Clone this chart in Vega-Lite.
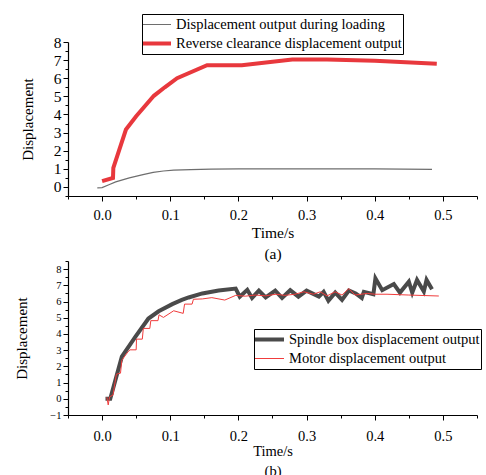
{
  "$schema": "https://vega.github.io/schema/vega-lite/v6.json",
  "padding": {"left": 14, "top": 13, "right": 2, "bottom": 0},
  "spacing": 65,
  "bounds": "flush",
  "resolve": {"scale": {"color": "independent", "strokeWidth": "independent"}, "legend": {"color": "independent", "strokeWidth": "independent"}},
  "config": {
    "font": "Liberation Serif",
    "view": {"stroke": null},
    "axis": {"domainColor": "black", "tickColor": "black", "labelColor": "black", "titleColor": "black", "grid": false, "titleFontWeight": "normal", "labelFontWeight": "normal", "domainWidth": 1.2, "tickWidth": 1, "labelFont": "Liberation Serif", "titleFont": "Liberation Serif"},
    "legend": {"labelFont": "Liberation Serif", "labelColor": "black", "labelLimit": 400}
  },
  "vconcat": [
    {
      "width": 409,
      "height": 154,
      "data": {"values": [
        {"series": "Displacement output during loading", "t": -0.007, "v": -0.05},
        {"series": "Displacement output during loading", "t": 0.0, "v": -0.04},
        {"series": "Displacement output during loading", "t": 0.01, "v": 0.12},
        {"series": "Displacement output during loading", "t": 0.02, "v": 0.28},
        {"series": "Displacement output during loading", "t": 0.04, "v": 0.5},
        {"series": "Displacement output during loading", "t": 0.06, "v": 0.68},
        {"series": "Displacement output during loading", "t": 0.075, "v": 0.8},
        {"series": "Displacement output during loading", "t": 0.09, "v": 0.88},
        {"series": "Displacement output during loading", "t": 0.105, "v": 0.93},
        {"series": "Displacement output during loading", "t": 0.13, "v": 0.96},
        {"series": "Displacement output during loading", "t": 0.16, "v": 0.98},
        {"series": "Displacement output during loading", "t": 0.2, "v": 1.0},
        {"series": "Displacement output during loading", "t": 0.3, "v": 1.0},
        {"series": "Displacement output during loading", "t": 0.4, "v": 1.0},
        {"series": "Displacement output during loading", "t": 0.484, "v": 0.97},
        {"series": "Reverse clearance displacement output", "t": 0.0, "v": 0.32},
        {"series": "Reverse clearance displacement output", "t": 0.016, "v": 0.5},
        {"series": "Reverse clearance displacement output", "t": 0.0165, "v": 1.05},
        {"series": "Reverse clearance displacement output", "t": 0.035, "v": 3.17},
        {"series": "Reverse clearance displacement output", "t": 0.05, "v": 3.9},
        {"series": "Reverse clearance displacement output", "t": 0.076, "v": 5.03},
        {"series": "Reverse clearance displacement output", "t": 0.092, "v": 5.5},
        {"series": "Reverse clearance displacement output", "t": 0.11, "v": 6.0},
        {"series": "Reverse clearance displacement output", "t": 0.154, "v": 6.72},
        {"series": "Reverse clearance displacement output", "t": 0.205, "v": 6.72},
        {"series": "Reverse clearance displacement output", "t": 0.279, "v": 7.04},
        {"series": "Reverse clearance displacement output", "t": 0.33, "v": 7.04},
        {"series": "Reverse clearance displacement output", "t": 0.4, "v": 6.96},
        {"series": "Reverse clearance displacement output", "t": 0.491, "v": 6.8}
      ]},
      "mark": {"type": "line", "strokeCap": "butt", "strokeJoin": "miter"},
      "encoding": {
        "x": {"field": "t", "type": "quantitative",
          "scale": {"domain": [-0.05, 0.55], "nice": false, "zero": false},
          "axis": {"values": [-0.05, 0, 0.05, 0.1, 0.15, 0.2, 0.25, 0.3, 0.35, 0.4, 0.45, 0.5, 0.55],
            "labelExpr": "abs(datum.value*10 - round(datum.value*10)) < 0.01 ? format(datum.value, '.1f') : ''",
            "tickSize": {"condition": {"test": "abs(datum.value*10 - round(datum.value*10)) > 0.01", "value": 3}, "value": 5},
            "labelFont": "Liberation Serif", "labelFontSize": 14.5, "labelPadding": 7,
            "title": ["Time/s", "(a)"], "titleFont": "Liberation Serif", "titleFontWeight": "normal", "titleFontSize": 15.5, "titleLineHeight": 21, "titlePadding": 4}},
        "y": {"field": "v", "type": "quantitative",
          "scale": {"domain": [-0.5, 8], "nice": false, "zero": false},
          "axis": {"values": [-0.5, 0, 0.5, 1, 1.5, 2, 2.5, 3, 3.5, 4, 4.5, 5, 5.5, 6, 6.5, 7, 7.5, 8],
            "labelExpr": "datum.value % 1 == 0 ? format(datum.value, 'd') : ''",
            "tickSize": {"condition": {"test": "datum.value % 1 != 0", "value": 3}, "value": 5},
            "labelFont": "Liberation Serif", "labelFontSize": 15.5, "labelPadding": 2,
            "title": "Displacement", "titleFont": "Liberation Serif", "titleFontWeight": "normal", "titleFontSize": 15, "titlePadding": 18}},
        "color": {"field": "series", "type": "nominal",
          "scale": {"domain": ["Displacement output during loading", "Reverse clearance displacement output"], "range": ["#6e6e6e", "#e8383d"]},
          "legend": {"title": null, "orient": "none", "legendX": 74, "legendY": -28, "fillColor": "white", "strokeColor": "black", "padding": 1, "symbolType": "stroke", "symbolSize": 900, "symbolOffset": -4, "clipHeight": 19, "labelFontSize": 14.5, "labelOffset": 3, "rowPadding": 0}},
        "strokeWidth": {"field": "series", "type": "nominal",
          "scale": {"type": "ordinal", "domain": ["Displacement output during loading", "Reverse clearance displacement output"], "range": [1.2, 4]},
          "legend": {"title": null, "orient": "none", "legendX": 74, "legendY": -28, "fillColor": "white", "strokeColor": "black", "padding": 1, "symbolType": "stroke", "symbolSize": 900, "symbolOffset": -4, "clipHeight": 19, "labelFontSize": 14.5, "labelOffset": 3, "rowPadding": 0}}
      }
    },
    {
      "width": 409,
      "height": 154,
      "data": {"values": [
        {"series": "Spindle box displacement output", "t": 0.005, "v": 0},
        {"series": "Spindle box displacement output", "t": 0.012, "v": 0},
        {"series": "Spindle box displacement output", "t": 0.029, "v": 2.6},
        {"series": "Spindle box displacement output", "t": 0.049, "v": 3.83},
        {"series": "Spindle box displacement output", "t": 0.068, "v": 4.95},
        {"series": "Spindle box displacement output", "t": 0.083, "v": 5.4},
        {"series": "Spindle box displacement output", "t": 0.103, "v": 5.84},
        {"series": "Spindle box displacement output", "t": 0.117, "v": 6.1},
        {"series": "Spindle box displacement output", "t": 0.127, "v": 6.25},
        {"series": "Spindle box displacement output", "t": 0.147, "v": 6.5},
        {"series": "Spindle box displacement output", "t": 0.171, "v": 6.68},
        {"series": "Spindle box displacement output", "t": 0.196, "v": 6.8},
        {"series": "Spindle box displacement output", "t": 0.202, "v": 6.3},
        {"series": "Spindle box displacement output", "t": 0.213, "v": 6.72},
        {"series": "Spindle box displacement output", "t": 0.22, "v": 6.22},
        {"series": "Spindle box displacement output", "t": 0.23, "v": 6.67},
        {"series": "Spindle box displacement output", "t": 0.24, "v": 6.25},
        {"series": "Spindle box displacement output", "t": 0.254, "v": 6.67},
        {"series": "Spindle box displacement output", "t": 0.264, "v": 6.22},
        {"series": "Spindle box displacement output", "t": 0.276, "v": 6.7},
        {"series": "Spindle box displacement output", "t": 0.288, "v": 6.3},
        {"series": "Spindle box displacement output", "t": 0.3, "v": 6.67},
        {"series": "Spindle box displacement output", "t": 0.318, "v": 6.3},
        {"series": "Spindle box displacement output", "t": 0.325, "v": 6.6},
        {"series": "Spindle box displacement output", "t": 0.332, "v": 6.05},
        {"series": "Spindle box displacement output", "t": 0.342, "v": 6.55},
        {"series": "Spindle box displacement output", "t": 0.352, "v": 6.1},
        {"series": "Spindle box displacement output", "t": 0.362, "v": 6.68},
        {"series": "Spindle box displacement output", "t": 0.372, "v": 6.5},
        {"series": "Spindle box displacement output", "t": 0.381, "v": 6.22},
        {"series": "Spindle box displacement output", "t": 0.384, "v": 6.6},
        {"series": "Spindle box displacement output", "t": 0.398, "v": 6.45},
        {"series": "Spindle box displacement output", "t": 0.401, "v": 7.43},
        {"series": "Spindle box displacement output", "t": 0.411, "v": 6.7},
        {"series": "Spindle box displacement output", "t": 0.428, "v": 7.08},
        {"series": "Spindle box displacement output", "t": 0.437, "v": 6.55},
        {"series": "Spindle box displacement output", "t": 0.45, "v": 7.22},
        {"series": "Spindle box displacement output", "t": 0.455, "v": 6.55},
        {"series": "Spindle box displacement output", "t": 0.462, "v": 7.33},
        {"series": "Spindle box displacement output", "t": 0.472, "v": 6.62},
        {"series": "Spindle box displacement output", "t": 0.476, "v": 7.33},
        {"series": "Spindle box displacement output", "t": 0.484, "v": 6.75},
        {"series": "Motor displacement output", "t": 0.007, "v": 0.1},
        {"series": "Motor displacement output", "t": 0.009, "v": -0.38},
        {"series": "Motor displacement output", "t": 0.011, "v": 0.12},
        {"series": "Motor displacement output", "t": 0.016, "v": 0.23},
        {"series": "Motor displacement output", "t": 0.021, "v": 1.52},
        {"series": "Motor displacement output", "t": 0.027, "v": 1.58},
        {"series": "Motor displacement output", "t": 0.029, "v": 2.38},
        {"series": "Motor displacement output", "t": 0.038, "v": 2.9},
        {"series": "Motor displacement output", "t": 0.041, "v": 3.02},
        {"series": "Motor displacement output", "t": 0.05, "v": 3.02},
        {"series": "Motor displacement output", "t": 0.0505, "v": 3.68},
        {"series": "Motor displacement output", "t": 0.059, "v": 3.68},
        {"series": "Motor displacement output", "t": 0.0605, "v": 4.34},
        {"series": "Motor displacement output", "t": 0.07, "v": 4.34},
        {"series": "Motor displacement output", "t": 0.0715, "v": 4.82},
        {"series": "Motor displacement output", "t": 0.082, "v": 4.82},
        {"series": "Motor displacement output", "t": 0.0835, "v": 5.18},
        {"series": "Motor displacement output", "t": 0.09, "v": 5.02},
        {"series": "Motor displacement output", "t": 0.105, "v": 5.43},
        {"series": "Motor displacement output", "t": 0.119, "v": 5.27},
        {"series": "Motor displacement output", "t": 0.121, "v": 5.84},
        {"series": "Motor displacement output", "t": 0.132, "v": 5.84},
        {"series": "Motor displacement output", "t": 0.134, "v": 6.14},
        {"series": "Motor displacement output", "t": 0.147, "v": 6.16},
        {"series": "Motor displacement output", "t": 0.161, "v": 6.24},
        {"series": "Motor displacement output", "t": 0.18, "v": 6.09},
        {"series": "Motor displacement output", "t": 0.196, "v": 6.38},
        {"series": "Motor displacement output", "t": 0.21, "v": 6.33},
        {"series": "Motor displacement output", "t": 0.225, "v": 6.4},
        {"series": "Motor displacement output", "t": 0.24, "v": 6.35},
        {"series": "Motor displacement output", "t": 0.255, "v": 6.45},
        {"series": "Motor displacement output", "t": 0.268, "v": 6.38},
        {"series": "Motor displacement output", "t": 0.283, "v": 6.45},
        {"series": "Motor displacement output", "t": 0.296, "v": 6.6},
        {"series": "Motor displacement output", "t": 0.31, "v": 6.45},
        {"series": "Motor displacement output", "t": 0.32, "v": 6.6},
        {"series": "Motor displacement output", "t": 0.33, "v": 6.35},
        {"series": "Motor displacement output", "t": 0.342, "v": 6.6},
        {"series": "Motor displacement output", "t": 0.352, "v": 6.4},
        {"series": "Motor displacement output", "t": 0.362, "v": 6.8},
        {"series": "Motor displacement output", "t": 0.371, "v": 6.4},
        {"series": "Motor displacement output", "t": 0.389, "v": 6.5},
        {"series": "Motor displacement output", "t": 0.4, "v": 6.45},
        {"series": "Motor displacement output", "t": 0.418, "v": 6.45},
        {"series": "Motor displacement output", "t": 0.45, "v": 6.4},
        {"series": "Motor displacement output", "t": 0.494, "v": 6.34}
      ]},
      "mark": {"type": "line", "strokeCap": "butt", "strokeJoin": "miter"},
      "encoding": {
        "x": {"field": "t", "type": "quantitative",
          "scale": {"domain": [-0.05, 0.55], "nice": false, "zero": false},
          "axis": {"values": [-0.05, 0, 0.05, 0.1, 0.15, 0.2, 0.25, 0.3, 0.35, 0.4, 0.45, 0.5, 0.55],
            "labelExpr": "abs(datum.value*10 - round(datum.value*10)) < 0.01 ? format(datum.value, '.1f') : ''",
            "tickSize": {"condition": {"test": "abs(datum.value*10 - round(datum.value*10)) > 0.01", "value": 3}, "value": 5},
            "labelFont": "Liberation Serif", "labelFontSize": 14.5, "labelPadding": 9,
            "title": ["Time/s", "(b)"], "titleFont": "Liberation Serif", "titleFontWeight": "normal", "titleFontSize": 14.5, "titleLineHeight": 20, "titlePadding": 2}},
        "y": {"field": "v", "type": "quantitative",
          "scale": {"domain": [-1, 8.5], "nice": false, "zero": false},
          "axis": {"values": [-1, -0.5, 0, 0.5, 1, 1.5, 2, 2.5, 3, 3.5, 4, 4.5, 5, 5.5, 6, 6.5, 7, 7.5, 8, 8.5],
            "labelExpr": "datum.value % 1 == 0 ? format(datum.value, 'd') : ''",
            "tickSize": {"condition": {"test": "datum.value % 1 != 0", "value": 3}, "value": 5},
            "labelFont": "Liberation Serif", "labelFontSize": 10.5, "labelPadding": 2,
            "title": "Displacement", "titleFont": "Liberation Serif", "titleFontWeight": "normal", "titleFontSize": 15, "titlePadding": 20}},
        "color": {"field": "series", "type": "nominal",
          "scale": {"domain": ["Spindle box displacement output", "Motor displacement output"], "range": ["#4a4a4a", "#f03c3c"]},
          "legend": {"title": null, "orient": "none", "legendX": 186, "legendY": 68, "fillColor": "white", "strokeColor": "black", "padding": 1, "symbolType": "stroke", "symbolSize": 1024, "symbolOffset": -5, "clipHeight": 19, "labelFontSize": 14.5, "labelOffset": 3, "rowPadding": 0}},
        "strokeWidth": {"field": "series", "type": "nominal",
          "scale": {"type": "ordinal", "domain": ["Spindle box displacement output", "Motor displacement output"], "range": [4, 1]},
          "legend": {"title": null, "orient": "none", "legendX": 186, "legendY": 68, "fillColor": "white", "strokeColor": "black", "padding": 1, "symbolType": "stroke", "symbolSize": 1024, "symbolOffset": -5, "clipHeight": 19, "labelFontSize": 14.5, "labelOffset": 3, "rowPadding": 0}}
      }
    }
  ]
}
